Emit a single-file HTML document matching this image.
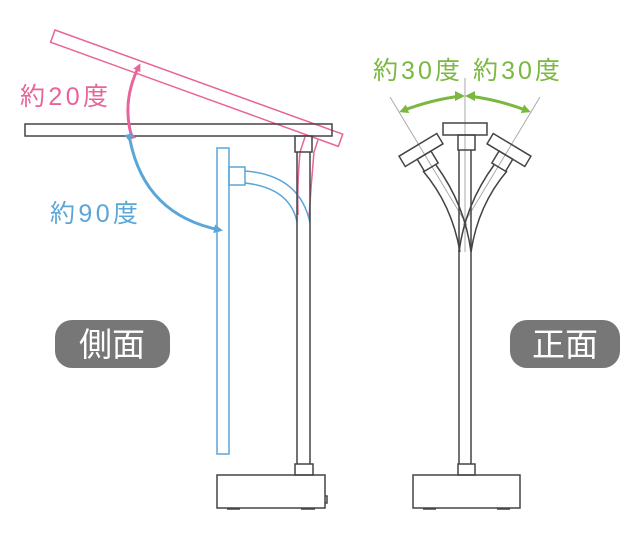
<!DOCTYPE html>
<html><head><meta charset="utf-8"><style>
html,body{margin:0;padding:0;background:#fff;}
svg{display:block;}
text{font-family:"Liberation Sans","Noto Sans CJK JP",sans-serif;}
</style></head><body>
<svg width="640" height="533" viewBox="0 0 640 533" xmlns="http://www.w3.org/2000/svg">
<defs>
<marker id="ap" markerWidth="8" markerHeight="8" refX="5" refY="4" orient="auto" markerUnits="userSpaceOnUse"><path d="M0,0 L8,4 L0,8 Z" fill="#e8649a"/></marker>
<marker id="ab" markerWidth="9" markerHeight="9" refX="6" refY="4.5" orient="auto" markerUnits="userSpaceOnUse"><path d="M0,0 L9,4.5 L0,9 Z" fill="#5aa6d8"/></marker>
<marker id="ag" markerWidth="9" markerHeight="9" refX="6" refY="4.5" orient="auto" markerUnits="userSpaceOnUse"><path d="M0,0 L9,4.5 L0,9 Z" fill="#7ab83f"/></marker>
</defs>
<g fill="none" stroke-width="1.5">
<rect x="0" y="0" width="306" height="13" stroke="#e8649a" fill="none" transform="translate(55,30) rotate(19.9)"/>
<path d="M305,137 L300,152 Q297,185 298,215 M318,140 L314,152 Q311,185 309,218" stroke="#e8649a"/>
<rect x="217" y="148" width="12" height="306" stroke="#5aa6d8"/>
<rect x="229" y="167" width="16" height="18" stroke="#5aa6d8"/>
<path d="M245,171 Q300,175 310,223 M245,183 Q290,188 297,222" stroke="#5aa6d8"/>
<rect x="25" y="124" width="307" height="12" stroke="#444"/>
<rect x="295" y="136" width="17" height="16" stroke="#444"/>
<path d="M297,152 V464 M310,152 V464" stroke="#444"/>
<rect x="295" y="464" width="18" height="11" stroke="#444"/>
<rect x="217" y="475" width="108" height="33" stroke="#444"/>
<path d="M325,496 h2 v7 h-2" stroke="#444"/>
<path d="M227,509 h13 M301,509 h14" stroke="#444"/>
<path d="M131,134 Q122,100 139,66" stroke="#e8649a" stroke-width="3" marker-end="url(#ap)" marker-start="url(#ap)"/>
<path d="M130,140 Q145,215 220,230" stroke="#5aa6d8" stroke-width="3" marker-end="url(#ab)" marker-start="url(#ab)"/>
<path d="M465,78 V252 M390,97 L467,225 M540,97 L463,225" stroke="#aaa" stroke-width="1"/>
<rect x="443" y="123" width="44" height="12" stroke="#444"/>
<rect x="458" y="135" width="17" height="15" stroke="#444"/>
<path d="M459,150 V464 M471,150 V464" stroke="#444"/>
<g transform="translate(421,150) rotate(-31)" stroke="#444"><rect x="-22" y="-6" width="44" height="12"/><rect x="-8" y="6" width="16" height="14"/></g>
<g transform="translate(509,150) rotate(31)" stroke="#444"><rect x="-22" y="-6" width="44" height="12"/><rect x="-8" y="6" width="16" height="14"/></g>
<path d="M423,171 Q452,205 460,252 M436,165 Q465,205 471,252 M507,171 Q478,205 471,252 M494,165 Q465,205 459,252" stroke="#444"/>
<rect x="458" y="464" width="17" height="11" stroke="#444"/>
<rect x="413" y="475" width="107" height="33" stroke="#444"/>
<path d="M423,509 h13 M497,509 h13" stroke="#444"/>
<path d="M461,96 Q430,100 402,111" stroke="#7ab83f" stroke-width="3" marker-end="url(#ag)"/>
<path d="M469,96 Q500,100 528,111" stroke="#7ab83f" stroke-width="3" marker-end="url(#ag)"/>
</g>
<path d="M455,91 L465,96 L455,101 Z M475,91 L465,96 L475,101 Z" fill="#7ab83f"/>
<text x="20" y="105" font-size="25" fill="#e8649a" textLength="88" lengthAdjust="spacing">約20度</text>
<text x="50" y="222" font-size="25" fill="#5aa6d8" textLength="88" lengthAdjust="spacing">約90度</text>
<text x="373" y="79" font-size="25" fill="#7ab83f" textLength="187" lengthAdjust="spacing">約30度 約30度</text>
<rect x="55" y="320" width="115" height="48" rx="17" fill="#777"/>
<text x="112" y="356" font-size="33" fill="#fff" text-anchor="middle">側面</text>
<rect x="510" y="320" width="110" height="48" rx="17" fill="#777"/>
<text x="565" y="356" font-size="33" fill="#fff" text-anchor="middle">正面</text>
</svg>
</body></html>
